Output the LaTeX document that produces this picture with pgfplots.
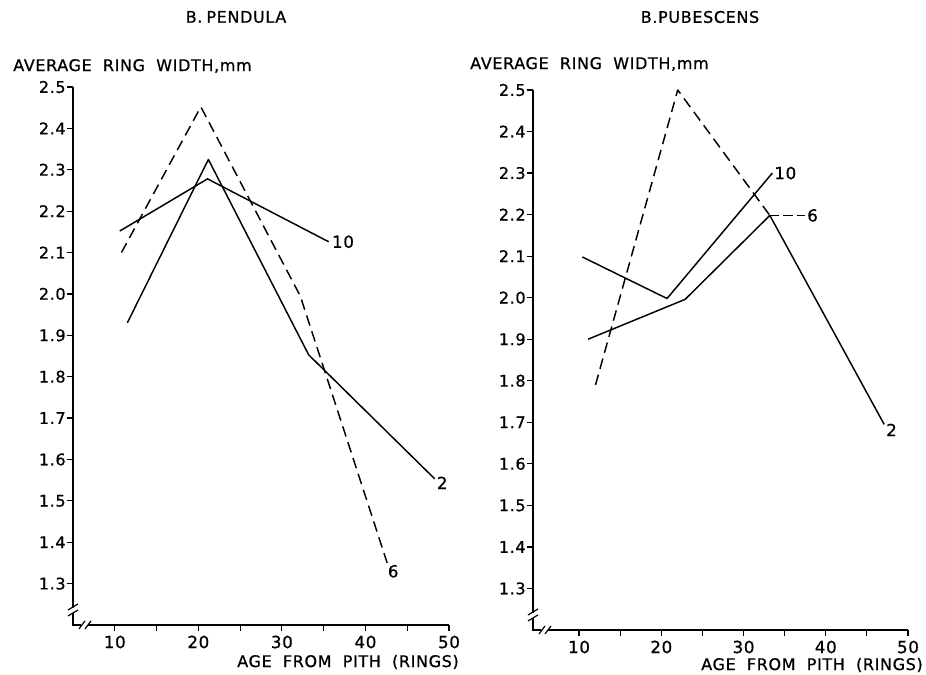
\documentclass[border=0pt]{standalone}
\usepackage{pgfplots}
\pgfplotsset{compat=1.18}
\usepackage{fontspec}
\setmainfont[LetterSpace=4, FakeBold=0.8]{DejaVu Sans}

% 1 px of the drawing grid = 0.75pt
\newcommand{\px}{0.75pt}
\newcommand{\ws}{\hspace{0.7em}}

\tikzset{
  ser/.style={font=\fontsize{12.5}{14}\selectfont, inner sep=1pt},
  ln/.style={black, line width=1.1pt, line join=round, mark=none},
  dashedline/.style={ln, dash pattern=on 8pt off 4.5pt},
}

\pgfplotsset{
  ringaxis/.style={
    scale only axis,
    clip=false,
    axis lines=left,
    axis line style={draw=none},
    ymin=1.2, ymax=2.5,
    xmax=50,
    xtick={10,20,30,40,50},
    minor xtick={15,25,35,45},
    ytick={1.3,1.4,1.5,1.6,1.7,1.8,1.9,2.0,2.1,2.2,2.3,2.4,2.5},
    tick align=outside,
    major tick length=4.5pt,
    minor tick length=4.5pt,
    every tick/.style={black, line width=0.9pt},
    /pgf/number format/assume math mode=true,
    yticklabel style={font=\fontsize{12}{14}\selectfont, xshift=2.5pt,
      /pgf/number format/.cd, fixed, fixed zerofill, precision=1},
    xticklabel style={font=\fontsize{12.5}{14}\selectfont},
  },
}

% broken axis lines drawn from the lower-left corner of an axis
\newcommand{\brokenaxes}{%
  \draw[line width=1pt] (rel axis cs:0,1)
     -- ([yshift=17*\px]rel axis cs:0,0);
  \draw[line width=0.9pt] ([xshift=-5*\px,yshift=15*\px]rel axis cs:0,0) -- ++(10*\px,6*\px);
  \draw[line width=0.9pt] ([xshift=-5*\px,yshift=9*\px]rel axis cs:0,0) -- ++(10*\px,6*\px);
  \draw[line width=1pt] ([yshift=12*\px]rel axis cs:0,0) -- (rel axis cs:0,0)
     -- ([xshift=8*\px]rel axis cs:0,0);
  \draw[line width=0.9pt] ([xshift=6*\px,yshift=-4*\px]rel axis cs:0,0) -- ++(6*\px,8*\px);
  \draw[line width=0.9pt] ([xshift=12*\px,yshift=-4*\px]rel axis cs:0,0) -- ++(6*\px,8*\px);
  \draw[line width=1pt] ([xshift=15*\px]rel axis cs:0,0) -- (rel axis cs:1,0);
}

\begin{document}
\begin{tikzpicture}
\path[use as bounding box] (0,0) rectangle (694.5pt,506.25pt);

% ---------------- B. PENDULA ----------------
\begin{axis}[ringaxis,
  at={(54.75pt,37.5pt)}, anchor=south west,
  width=282pt, height=403.5pt,
  xmin=5]
  \brokenaxes
  % 2 years
  \addplot[ln] coordinates {(11.5,1.93) (21.2,2.325) (33.2,1.853) (48.3,1.553)}
    node[ser, pos=1, anchor=west, yshift=-3pt] {2};
  % 6 years
  \addplot[dashedline] coordinates {(10.8,2.10) (20.3,2.452) (32.2,1.995) (42.6,1.35)}
    node[ser, pos=1, anchor=north west, xshift=-1pt] {6};
  % 10 years
  \addplot[ln] coordinates {(10.6,2.152) (21.1,2.278) (35.6,2.126)}
    node[ser, pos=1, anchor=west, xshift=1pt] {10};
\end{axis}

% ---------------- B. PUBESCENS ----------------
\begin{axis}[ringaxis,
  at={(399.75pt,33.75pt)}, anchor=south west,
  width=281.25pt, height=405pt,
  xmin=4.4]
  \brokenaxes
  % 2 years
  \addplot[ln] coordinates {(11.1,1.90) (22.9,1.996) (33.2,2.198) (47.1,1.695)}
    node[ser, pos=1, anchor=north west, yshift=2pt] {2};
  % 6 years
  \addplot[dashedline] coordinates {(12.0,1.79) (22.0,2.50) (33.2,2.198)};
  \addplot[ln, dash pattern=on 7pt off 3pt] coordinates {(33.2,2.198) (37.5,2.198)}
    node[ser, pos=1, anchor=west] {6};
  % 10 years
  \addplot[ln] coordinates {(10.4,2.098) (20.7,1.998) (33.5,2.30)}
    node[ser, pos=1, anchor=west] {10};
\end{axis}

% titles and axis captions
\begin{scope}[every node/.style={font=\fontsize{12}{15}\selectfont, inner sep=0pt}]
  \node at (177pt,493.5pt) {B.\hspace{0.25em}PENDULA};
  \node at (525pt,493.5pt) {B.PUBESCENS};
  \node[anchor=west] at (9.75pt,456.75pt) {AVERAGE\ws RING\ws WIDTH,mm};
  \node[anchor=west] at (352.5pt,458.25pt) {AVERAGE\ws RING\ws WIDTH,mm};
  \node[anchor=east] at (344.25pt,9.75pt) {AGE\ws FROM\ws PITH\ws (RINGS)};
  \node[anchor=east] at (692.25pt,7.5pt) {AGE\ws FROM\ws PITH\ws (RINGS)};
\end{scope}
\end{tikzpicture}
\end{document}
